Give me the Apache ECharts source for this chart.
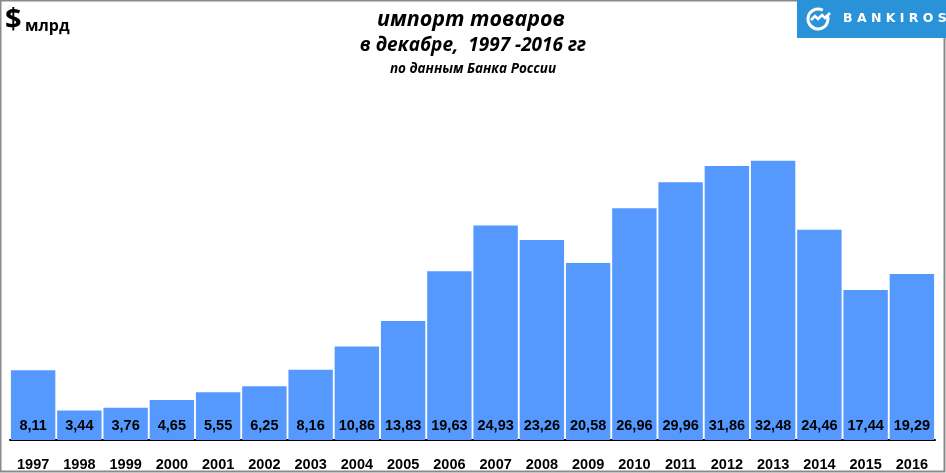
<!DOCTYPE html>
<html><head><meta charset="utf-8">
<script src="https://cdn.jsdelivr.net/npm/echarts@6/dist/echarts.min.js"></script>
<style>html,body{margin:0;padding:0;background:#fff}#c{width:946px;height:473px}</style>
</head><body><div id="c"></div>
<script>
const years = ['1997','1998','1999','2000','2001','2002','2003','2004','2005','2006','2007','2008','2009','2010','2011','2012','2013','2014','2015','2016'];
const imports = [8.11,3.44,3.76,4.65,5.55,6.25,8.16,10.86,13.83,19.63,24.93,23.26,20.58,26.96,29.96,31.86,32.48,24.46,17.44,19.29];
const titleMain = 'импорт товаров';
const titleSub = 'в декабре,  1997 -2016 гг';
const titleSrc = 'по данным Банка России';

const chart = echarts.init(document.getElementById('c'));
const F = '"Liberation Sans", Arial, sans-serif';
const TF = '"Open Sans", "Noto Sans", sans-serif';
chart.setOption({
  animation: false,
  backgroundColor: '#fff',
  grid: {left: 10, right: 11, top: 139, bottom: 33},
  xAxis: {
    type: 'category', data: years,
    axisLine: {lineStyle: {color: '#000', width: 2}},
    axisTick: {show: false},
    axisLabel: {color: '#000', fontFamily: F, fontWeight: 'bold', fontSize: 14.5, margin: 17, interval: 0}
  },
  yAxis: {type: 'value', min: 0, max: 35, show: false, splitLine: {show: false}},
  series: [{
    type: 'bar', data: imports, barCategoryGap: '4%',
    itemStyle: {color: '#5599FF'},
    label: {
      show: true, position: 'insideBottom', distance: 7,
      color: '#000', fontFamily: F, fontWeight: 'bold', fontSize: 14.5,
      formatter: p => p.value.toFixed(2).replace('.', ',')
    }
  }],
  graphic: [
    {type: 'rect', shape: {x: 0.5, y: 0.5, width: 944, height: 471}, style: {fill: null, stroke: '#8a8a8a', lineWidth: 2}, silent: true},
    {type: 'text', x: 5, y: 35, style: {text: '$', fontFamily: TF, fontWeight: 'bold', fontSize: 29, fill: '#000', textVerticalAlign: 'bottom'}},
    {type: 'text', x: 25, y: 34, style: {text: 'млрд', fontFamily: TF, fontWeight: 'bold', fontSize: 16, fill: '#000', textVerticalAlign: 'bottom'}},
    {type: 'text', x: 471, y: 20, style: {text: titleMain, fontFamily: TF, fontStyle: 'italic', fontWeight: 'bold', fontSize: 21.5, fill: '#000', textAlign: 'center', textVerticalAlign: 'middle'}},
    {type: 'text', x: 473, y: 46, style: {text: titleSub, fontFamily: TF, fontStyle: 'italic', fontWeight: 'bold', fontSize: 19, fill: '#000', textAlign: 'center', textVerticalAlign: 'middle'}},
    {type: 'text', x: 473, y: 69, style: {text: titleSrc, fontFamily: TF, fontStyle: 'italic', fontWeight: 'bold', fontSize: 13.5, fill: '#000', textAlign: 'center', textVerticalAlign: 'middle'}},
    {type: 'rect', shape: {x: 797, y: 0, width: 149, height: 38}, style: {fill: '#2A93D8'}},
    {type: 'arc', shape: {cx: 818, cy: 19, r: 10, startAngle: -Math.PI * 0.15, endAngle: Math.PI * 1.85 - 0.6, clockwise: true}, style: {fill: null, stroke: '#fff', lineWidth: 3}},
    {type: 'polyline', shape: {points: [[811,20],[815,16],[818,19],[822,15],[825,18],[830,13]]}, style: {fill: null, stroke: '#fff', lineWidth: 2.5}},
    {type: 'text', x: 843, y: 19, style: {text: 'B A N K I R O S', fontFamily: '"DejaVu Sans", sans-serif', fontWeight: 'bold', fontSize: 12.5, fill: '#fff', textVerticalAlign: 'middle'}}
  ]
});
</script></body></html>
